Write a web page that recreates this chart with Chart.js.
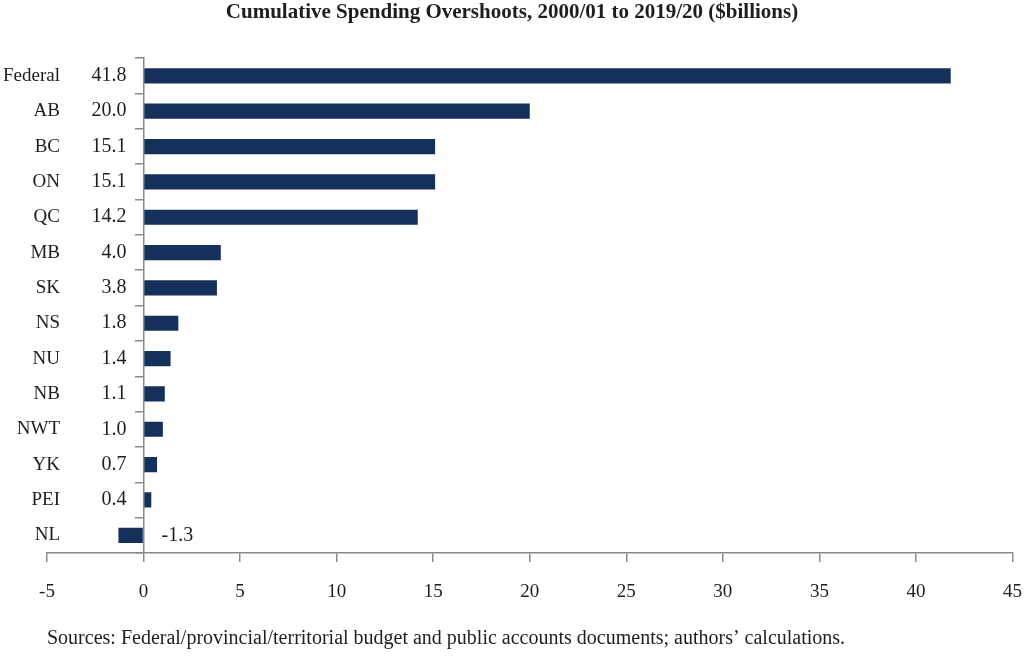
<!DOCTYPE html>
<html>
<head>
<meta charset="utf-8">
<script src="https://cdn.jsdelivr.net/npm/chart.js@4.4.1/dist/chart.umd.min.js"></script>
<style>
  html, body { margin: 0; padding: 0; background: #ffffff; }
  #wrap { width: 1024px; height: 665px; }
</style>
</head>
<body>
<div id="wrap"><canvas id="c" width="1024" height="665"></canvas></div>
<script>
const categories = ['Federal', 'AB', 'BC', 'ON', 'QC', 'MB', 'SK', 'NS', 'NU', 'NB', 'NWT', 'YK', 'PEI', 'NL'];
const overshoots = [41.8, 20.0, 15.1, 15.1, 14.2, 4.0, 3.8, 1.8, 1.4, 1.1, 1.0, 0.7, 0.4, -1.3];
const xTickLabels = ['-5', '0', '5', '10', '15', '20', '25', '30', '35', '40', '45'];
const xTickValues = [-5, 0, 5, 10, 15, 20, 25, 30, 35, 40, 45];
const titleText = 'Cumulative Spending Overshoots, 2000/01 to 2019/20 ($billions)';
const sourceText = 'Sources: Federal/provincial/territorial budget and public accounts documents; authors\u2019 calculations.';

const FONT = "'Liberation Serif', 'Times New Roman', serif";
const TEXT = '#1e1e1e';
const AXIS = '#8a8a8a';
const BAR = '#15305a';

// Category names and value labels, positioned from the chart's own scales
const rowLabels = {
  id: 'rowLabels',
  afterDatasetsDraw(chart) {
    const {ctx, scales} = chart;
    const xs = scales.x, ys = scales.y;
    const zero = xs.getPixelForValue(0);
    const leftEdge = xs.getPixelForValue(xs.min);
    ctx.save();
    ctx.fillStyle = TEXT;
    ctx.textBaseline = 'middle';
    categories.forEach((name, i) => {
      const y = ys.getPixelForValue(i);
      ctx.font = '19px ' + FONT;
      ctx.textAlign = 'right';
      ctx.fillText(name, leftEdge + 13, y);
      const v = overshoots[i];
      ctx.font = '20px ' + FONT;
      if (v >= 0) {
        ctx.textAlign = 'right';
        ctx.fillText(v.toFixed(1), zero - 17, y);
      } else {
        ctx.textAlign = 'left';
        ctx.fillText(v.toFixed(1), zero + 18, y);
      }
    });
    ctx.restore();
  }
};

new Chart(document.getElementById('c'), {
  type: 'bar',
  data: {
    labels: categories,
    datasets: [{
      data: overshoots,
      backgroundColor: BAR,
      borderWidth: 0,
      categoryPercentage: 1.0,
      barPercentage: 0.43,
      yAxisID: 'y'
    }]
  },
  options: {
    indexAxis: 'y',
    responsive: false,
    animation: false,
    devicePixelRatio: 1,
    layout: { padding: { left: 0, right: 0, top: 0, bottom: 0 } },
    plugins: {
      legend: { display: false },
      tooltip: { enabled: false },
      title: {
        display: true,
        text: titleText,
        color: TEXT,
        font: { family: FONT, size: 21, weight: 'bold', lineHeight: 1.2 },
        padding: { top: 0, bottom: 33 }
      }
    },
    scales: {
      x: {
        type: 'linear',
        position: 'bottom',
        min: -5,
        max: 45,
        afterBuildTicks(scale) {
          scale.ticks = xTickValues.map(v => ({ value: v }));
        },
        ticks: {
          color: TEXT,
          font: { family: FONT, size: 19, lineHeight: 2.95 },
          padding: 2,
          maxRotation: 0,
          callback(value) {
            const i = xTickValues.indexOf(value);
            return i >= 0 ? xTickLabels[i] : '';
          }
        },
        grid: {
          drawOnChartArea: false,
          drawTicks: true,
          tickLength: 9,
          color: AXIS,
          lineWidth: 1.5
        },
        border: { display: true, color: AXIS, width: 1.5 },
        title: {
          display: true,
          text: sourceText,
          align: 'start',
          color: TEXT,
          font: { family: FONT, size: 20, lineHeight: 1.2 },
          padding: { top: 5, bottom: 14 }
        }
      },
      y: {
        type: 'category',
        position: 'left',
        offset: true,
        afterFit(scale) { scale.width = 47; },
        ticks: { display: false },
        grid: { display: false, drawTicks: false },
        border: { display: false }
      },
      y2: {
        type: 'category',
        position: { x: 0 },
        offset: true,
        ticks: { display: false },
        grid: {
          drawOnChartArea: false,
          drawTicks: true,
          tickLength: 8,
          color: AXIS,
          lineWidth: 1.5
        },
        border: { display: true, color: AXIS, width: 1.5 }
      }
    }
  },
  plugins: [rowLabels]
});
</script>
</body>
</html>
